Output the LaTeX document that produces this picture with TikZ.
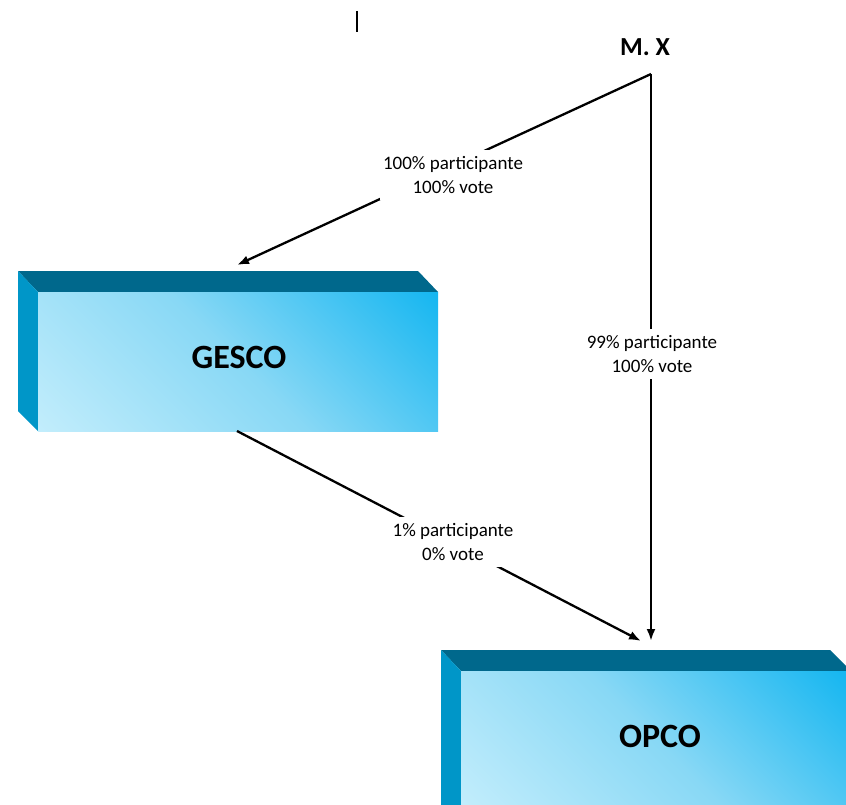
\documentclass[tikz,border=0pt]{standalone}
\usepackage{fontspec}
\setmainfont{Carlito}
\usetikzlibrary{arrows.meta}
\definecolor{topface}{RGB}{0,104,140}
\definecolor{sideface}{RGB}{0,150,200}
\definecolor{frontdark}{RGB}{0,176,240}
\definecolor{frontmid}{RGB}{136,216,245}
\definecolor{frontlight}{RGB}{205,241,253}
\pgfdeclareverticalshading{frontshade}{100bp}{color(0bp)=(frontlight); color(8bp)=(frontlight); color(50bp)=(frontmid); color(92bp)=(frontdark); color(100bp)=(frontdark)}
\tikzset{
  conn/.style={line width=2.3pt, -{Latex[length=12pt,width=9pt]}},
  lbl/.style={fill=white, inner xsep=3pt, inner ysep=6pt, align=center, font=\fontsize{19}{24}\selectfont},
  boxtitle/.style={font=\bfseries\fontsize{34}{38}\selectfont},
  toptitle/.style={font=\bfseries\fontsize{26}{30}\selectfont},
  front/.style={shading=frontshade, shading angle=-45},
}
\begin{document}
\begin{tikzpicture}[x=1pt,y=-1pt]
\useasboundingbox (0,0) rectangle (846,805);
\clip (0,0) rectangle (846,805);
% cursor mark
\draw[line width=1.2pt] (357,11) -- (357,32);
% GESCO box
\fill[topface] (18,271) -- (418,271) -- (438,292) -- (38,292) -- cycle;
\fill[sideface] (18,271) -- (38,292) -- (38,431) -- (18,411) -- cycle;
\shade[front] (38,292) rectangle (438,431);
\node[boxtitle] (gesco) at (239,357) {GESCO};
% OPCO box
\fill[topface] (441,650) -- (830,650) -- (851,671) -- (461,671) -- cycle;
\fill[sideface] (441,650) -- (461,671) -- (461,830) -- (441,810) -- cycle;
\shade[front] (461,671) rectangle (846,805);
\node[boxtitle] (opco) at (660,736) {OPCO};
% M. X
\node[toptitle] (mx) at (645,47) {M. X};
\coordinate (corner) at (651,74);
\coordinate (gescoIn) at (237,265);
\coordinate (gescoOut) at (237,431);
\coordinate (opcoInA) at (641,641);
\coordinate (opcoInB) at (651,641);
% connectors
\draw[conn] (corner) -- (gescoIn);
\draw[conn] (corner) -- (opcoInB);
\draw[conn] (gescoOut) -- (opcoInA);
% labels
\node[lbl] (l1) at (453,175) {100\% participante\\100\% vote};
\node[lbl] (l2) at (652,354) {99\% participante\\100\% vote};
\node[lbl] (l3) at (453,542) {1\% participante\\0\% vote};
\end{tikzpicture}
\end{document}
